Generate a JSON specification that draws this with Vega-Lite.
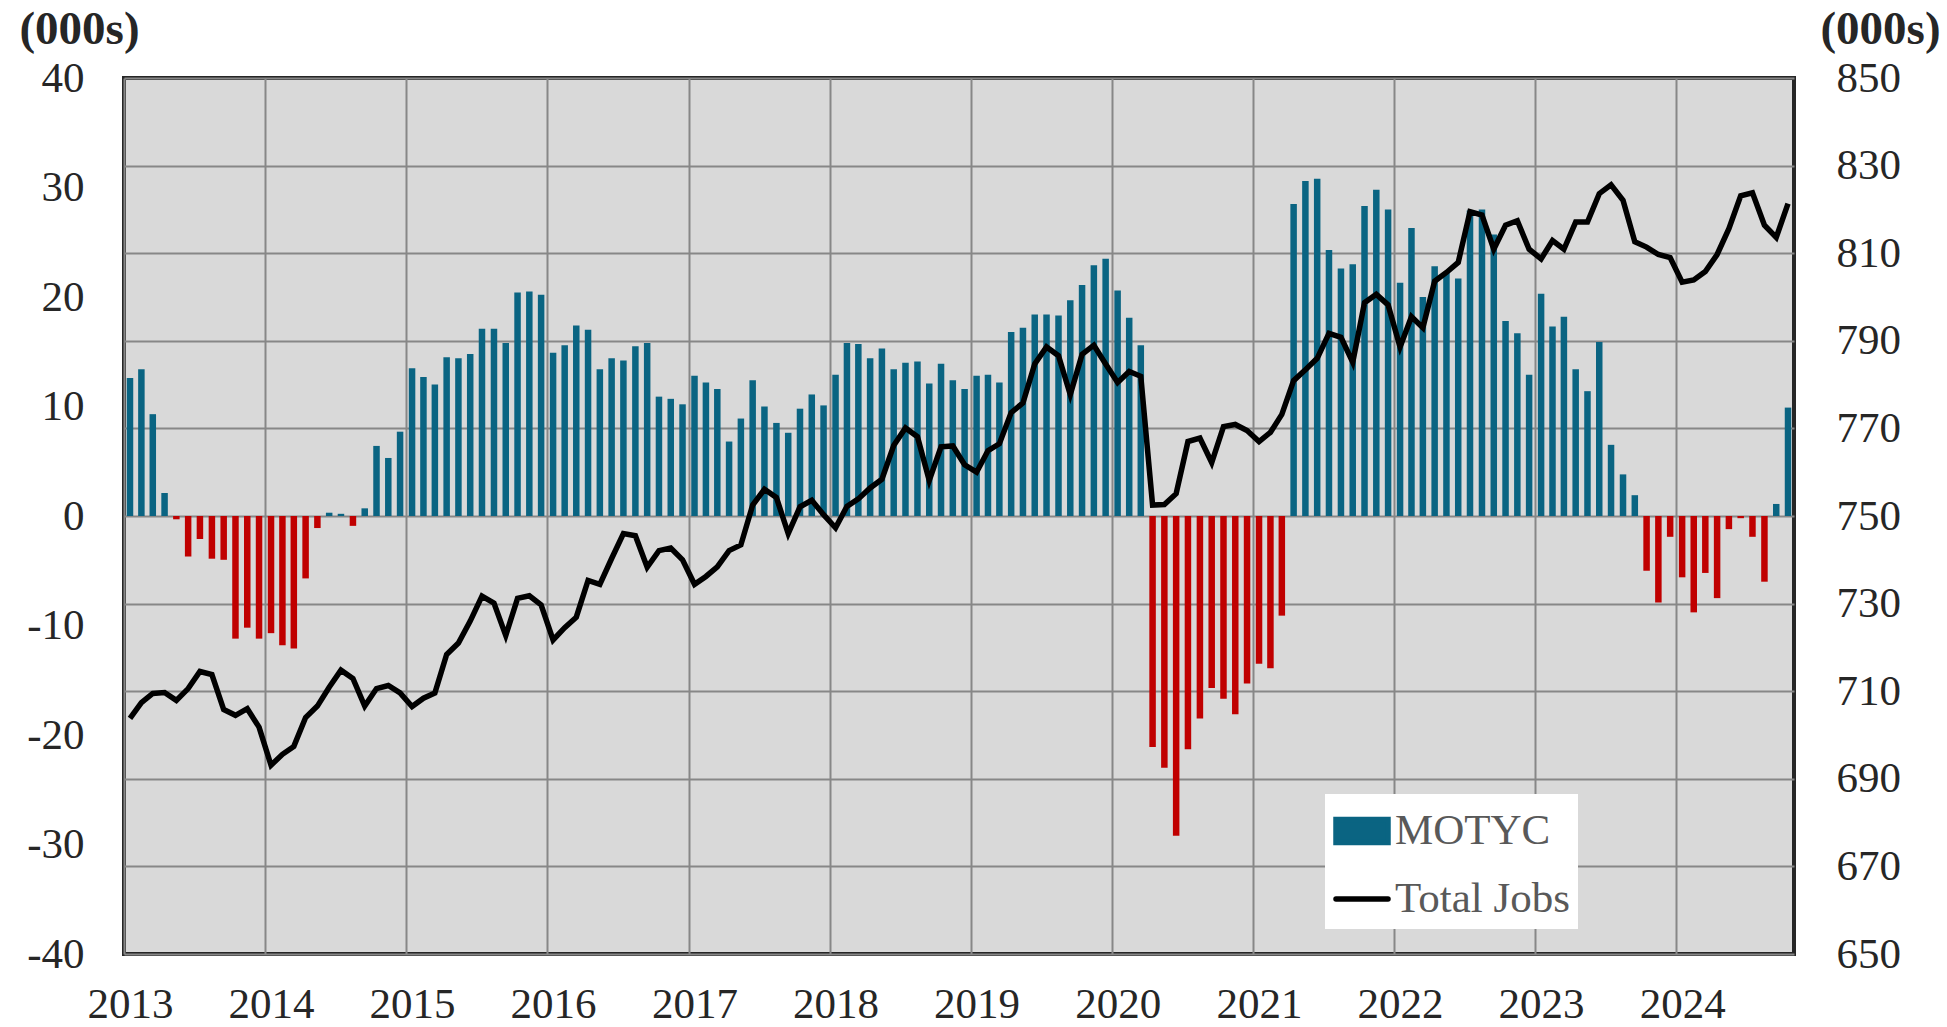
{
  "$schema": "https://vega.github.io/schema/vega-lite/v6.json",
  "width": 1670,
  "height": 876,
  "autosize": {"type": "none"},
  "padding": {"left": 124, "top": 78, "right": 153, "bottom": 73},
  "background": "white",
  "data": {
    "values": [
      {"date": "2013-01-01", "motyc": 12.6, "jobs": 703.8},
      {"date": "2013-02-01", "motyc": 13.4, "jobs": 707.4},
      {"date": "2013-03-01", "motyc": 9.3, "jobs": 709.5},
      {"date": "2013-04-01", "motyc": 2.1, "jobs": 709.7},
      {"date": "2013-05-01", "motyc": -0.3, "jobs": 707.9},
      {"date": "2013-06-01", "motyc": -3.7, "jobs": 710.6},
      {"date": "2013-07-01", "motyc": -2.1, "jobs": 714.5},
      {"date": "2013-08-01", "motyc": -3.9, "jobs": 713.8},
      {"date": "2013-09-01", "motyc": -4.0, "jobs": 705.8},
      {"date": "2013-10-01", "motyc": -11.2, "jobs": 704.5},
      {"date": "2013-11-01", "motyc": -10.2, "jobs": 706.0},
      {"date": "2013-12-01", "motyc": -11.2, "jobs": 701.8},
      {"date": "2014-01-01", "motyc": -10.7, "jobs": 693.1},
      {"date": "2014-02-01", "motyc": -11.8, "jobs": 695.6},
      {"date": "2014-03-01", "motyc": -12.1, "jobs": 697.4},
      {"date": "2014-04-01", "motyc": -5.7, "jobs": 704.0},
      {"date": "2014-05-01", "motyc": -1.1, "jobs": 706.6},
      {"date": "2014-06-01", "motyc": 0.3, "jobs": 710.9},
      {"date": "2014-07-01", "motyc": 0.2, "jobs": 714.8},
      {"date": "2014-08-01", "motyc": -0.9, "jobs": 712.9},
      {"date": "2014-09-01", "motyc": 0.7, "jobs": 706.6},
      {"date": "2014-10-01", "motyc": 6.4, "jobs": 710.6},
      {"date": "2014-11-01", "motyc": 5.3, "jobs": 711.3},
      {"date": "2014-12-01", "motyc": 7.7, "jobs": 709.6},
      {"date": "2015-01-01", "motyc": 13.5, "jobs": 706.5},
      {"date": "2015-02-01", "motyc": 12.7, "jobs": 708.4},
      {"date": "2015-03-01", "motyc": 12.0, "jobs": 709.6},
      {"date": "2015-04-01", "motyc": 14.5, "jobs": 718.4},
      {"date": "2015-05-01", "motyc": 14.4, "jobs": 721.0},
      {"date": "2015-06-01", "motyc": 14.8, "jobs": 726.0},
      {"date": "2015-07-01", "motyc": 17.1, "jobs": 731.7},
      {"date": "2015-08-01", "motyc": 17.1, "jobs": 730.1},
      {"date": "2015-09-01", "motyc": 15.8, "jobs": 722.7},
      {"date": "2015-10-01", "motyc": 20.4, "jobs": 731.2},
      {"date": "2015-11-01", "motyc": 20.5, "jobs": 731.8},
      {"date": "2015-12-01", "motyc": 20.2, "jobs": 729.7},
      {"date": "2016-01-01", "motyc": 14.9, "jobs": 721.7},
      {"date": "2016-02-01", "motyc": 15.6, "jobs": 724.5},
      {"date": "2016-03-01", "motyc": 17.4, "jobs": 726.9},
      {"date": "2016-04-01", "motyc": 17.0, "jobs": 735.3},
      {"date": "2016-05-01", "motyc": 13.4, "jobs": 734.4},
      {"date": "2016-06-01", "motyc": 14.4, "jobs": 740.3},
      {"date": "2016-07-01", "motyc": 14.2, "jobs": 746.0},
      {"date": "2016-08-01", "motyc": 15.5, "jobs": 745.5},
      {"date": "2016-09-01", "motyc": 15.8, "jobs": 738.3},
      {"date": "2016-10-01", "motyc": 10.9, "jobs": 742.1},
      {"date": "2016-11-01", "motyc": 10.7, "jobs": 742.7},
      {"date": "2016-12-01", "motyc": 10.2, "jobs": 740.0},
      {"date": "2017-01-01", "motyc": 12.8, "jobs": 734.4},
      {"date": "2017-02-01", "motyc": 12.2, "jobs": 736.2},
      {"date": "2017-03-01", "motyc": 11.6, "jobs": 738.4},
      {"date": "2017-04-01", "motyc": 6.8, "jobs": 742.1},
      {"date": "2017-05-01", "motyc": 8.9, "jobs": 743.4},
      {"date": "2017-06-01", "motyc": 12.4, "jobs": 752.5},
      {"date": "2017-07-01", "motyc": 10.0, "jobs": 756.1},
      {"date": "2017-08-01", "motyc": 8.5, "jobs": 754.2},
      {"date": "2017-09-01", "motyc": 7.6, "jobs": 746.0},
      {"date": "2017-10-01", "motyc": 9.8, "jobs": 752.1},
      {"date": "2017-11-01", "motyc": 11.1, "jobs": 753.6},
      {"date": "2017-12-01", "motyc": 10.1, "jobs": 750.3},
      {"date": "2018-01-01", "motyc": 12.9, "jobs": 747.3},
      {"date": "2018-02-01", "motyc": 15.8, "jobs": 752.2},
      {"date": "2018-03-01", "motyc": 15.7, "jobs": 753.9},
      {"date": "2018-04-01", "motyc": 14.4, "jobs": 756.4},
      {"date": "2018-05-01", "motyc": 15.3, "jobs": 758.4},
      {"date": "2018-06-01", "motyc": 13.4, "jobs": 766.1},
      {"date": "2018-07-01", "motyc": 14.0, "jobs": 770.1},
      {"date": "2018-08-01", "motyc": 14.1, "jobs": 768.1},
      {"date": "2018-09-01", "motyc": 12.1, "jobs": 758.1},
      {"date": "2018-10-01", "motyc": 13.9, "jobs": 765.8},
      {"date": "2018-11-01", "motyc": 12.4, "jobs": 766.0},
      {"date": "2018-12-01", "motyc": 11.6, "jobs": 761.7},
      {"date": "2019-01-01", "motyc": 12.8, "jobs": 760.0},
      {"date": "2019-02-01", "motyc": 12.9, "jobs": 764.9},
      {"date": "2019-03-01", "motyc": 12.2, "jobs": 766.5},
      {"date": "2019-04-01", "motyc": 16.8, "jobs": 773.6},
      {"date": "2019-05-01", "motyc": 17.2, "jobs": 775.8},
      {"date": "2019-06-01", "motyc": 18.4, "jobs": 784.7},
      {"date": "2019-07-01", "motyc": 18.4, "jobs": 788.6},
      {"date": "2019-08-01", "motyc": 18.3, "jobs": 786.6},
      {"date": "2019-09-01", "motyc": 19.7, "jobs": 777.7},
      {"date": "2019-10-01", "motyc": 21.1, "jobs": 786.9},
      {"date": "2019-11-01", "motyc": 22.9, "jobs": 789.0},
      {"date": "2019-12-01", "motyc": 23.5, "jobs": 784.7},
      {"date": "2020-01-01", "motyc": 20.6, "jobs": 780.5},
      {"date": "2020-02-01", "motyc": 18.1, "jobs": 783.0},
      {"date": "2020-03-01", "motyc": 15.6, "jobs": 781.9},
      {"date": "2020-04-01", "motyc": -21.1, "jobs": 752.5},
      {"date": "2020-05-01", "motyc": -23.0, "jobs": 752.6},
      {"date": "2020-06-01", "motyc": -29.2, "jobs": 755.1},
      {"date": "2020-07-01", "motyc": -21.3, "jobs": 767.0},
      {"date": "2020-08-01", "motyc": -18.5, "jobs": 767.8},
      {"date": "2020-09-01", "motyc": -15.7, "jobs": 762.2},
      {"date": "2020-10-01", "motyc": -16.7, "jobs": 770.4},
      {"date": "2020-11-01", "motyc": -18.1, "jobs": 770.9},
      {"date": "2020-12-01", "motyc": -15.3, "jobs": 769.5},
      {"date": "2021-01-01", "motyc": -13.5, "jobs": 767.0},
      {"date": "2021-02-01", "motyc": -13.9, "jobs": 769.1},
      {"date": "2021-03-01", "motyc": -9.1, "jobs": 773.2},
      {"date": "2021-04-01", "motyc": 28.5, "jobs": 780.9},
      {"date": "2021-05-01", "motyc": 30.6, "jobs": 783.4},
      {"date": "2021-06-01", "motyc": 30.8, "jobs": 786.0},
      {"date": "2021-07-01", "motyc": 24.3, "jobs": 791.7},
      {"date": "2021-08-01", "motyc": 22.6, "jobs": 790.8},
      {"date": "2021-09-01", "motyc": 23.0, "jobs": 785.1},
      {"date": "2021-10-01", "motyc": 28.3, "jobs": 798.7},
      {"date": "2021-11-01", "motyc": 29.8, "jobs": 800.6},
      {"date": "2021-12-01", "motyc": 28.0, "jobs": 798.2},
      {"date": "2022-01-01", "motyc": 21.3, "jobs": 788.6},
      {"date": "2022-02-01", "motyc": 26.3, "jobs": 795.5},
      {"date": "2022-03-01", "motyc": 20.0, "jobs": 793.0},
      {"date": "2022-04-01", "motyc": 22.8, "jobs": 803.6},
      {"date": "2022-05-01", "motyc": 22.2, "jobs": 805.6},
      {"date": "2022-06-01", "motyc": 21.7, "jobs": 807.9},
      {"date": "2022-07-01", "motyc": 27.9, "jobs": 819.5},
      {"date": "2022-08-01", "motyc": 28.0, "jobs": 818.7},
      {"date": "2022-09-01", "motyc": 25.7, "jobs": 810.9},
      {"date": "2022-10-01", "motyc": 17.8, "jobs": 816.4},
      {"date": "2022-11-01", "motyc": 16.7, "jobs": 817.4},
      {"date": "2022-12-01", "motyc": 12.9, "jobs": 810.9},
      {"date": "2023-01-01", "motyc": 20.3, "jobs": 808.7},
      {"date": "2023-02-01", "motyc": 17.3, "jobs": 812.9},
      {"date": "2023-03-01", "motyc": 18.2, "jobs": 810.9},
      {"date": "2023-04-01", "motyc": 13.4, "jobs": 817.1},
      {"date": "2023-05-01", "motyc": 11.4, "jobs": 817.1},
      {"date": "2023-06-01", "motyc": 15.9, "jobs": 823.6},
      {"date": "2023-07-01", "motyc": 6.5, "jobs": 825.6},
      {"date": "2023-08-01", "motyc": 3.8, "jobs": 822.1},
      {"date": "2023-09-01", "motyc": 1.9, "jobs": 812.6},
      {"date": "2023-10-01", "motyc": -5.0, "jobs": 811.4},
      {"date": "2023-11-01", "motyc": -7.9, "jobs": 809.7},
      {"date": "2023-12-01", "motyc": -1.9, "jobs": 809.0},
      {"date": "2024-01-01", "motyc": -5.6, "jobs": 803.4},
      {"date": "2024-02-01", "motyc": -8.8, "jobs": 803.9},
      {"date": "2024-03-01", "motyc": -5.2, "jobs": 805.8},
      {"date": "2024-04-01", "motyc": -7.5, "jobs": 809.7},
      {"date": "2024-05-01", "motyc": -1.2, "jobs": 815.6},
      {"date": "2024-06-01", "motyc": -0.2, "jobs": 823.1},
      {"date": "2024-07-01", "motyc": -1.9, "jobs": 823.8},
      {"date": "2024-08-01", "motyc": -6.0, "jobs": 816.4},
      {"date": "2024-09-01", "motyc": 1.1, "jobs": 813.6},
      {"date": "2024-10-01", "motyc": 9.9, "jobs": 821.3}
    ]
  },
  "layer": [
    {
      "mark": {"type": "bar", "width": 6.5},
      "encoding": {
        "x": {
          "field": "date",
          "type": "temporal",
          "timeUnit": "yearmonth",
          "bandPosition": 0.5,
          "scale": {
            "domain": [{"year": 2013, "month": 1, "date": 1}, {"year": 2024, "month": 11, "date": 1}],
            "nice": false
          },
          "axis": {
            "title": null,
            "grid": true,
            "tickCount": {"interval": "year", "step": 1},
            "format": "%Y",
            "labelOffset": 6,
            "labelPadding": 29,
            "labelFlush": false,
            "labelOverlap": false
          }
        },
        "y": {
          "field": "motyc",
          "type": "quantitative",
          "scale": {"domain": [-40, 40], "nice": false},
          "axis": {
            "orient": "left",
            "values": [-40, -30, -20, -10, 0, 10, 20, 30, 40],
            "grid": false,
            "labelExpr": "datum.value + ''",
            "labelPadding": 40,
            "title": "(000s)",
            "titleAngle": 0,
            "titleX": -45,
            "titleY": -49,
            "titleAlign": "center",
            "titleBaseline": "middle"
          }
        },
        "color": {
          "datum": "MOTYC",
          "condition": {"test": "datum.motyc < 0", "value": "#c00000"},
          "scale": {"domain": ["MOTYC", "Total Jobs"], "range": ["#0a6482", "#000000"]},
          "legend": {
            "orient": "none",
            "legendX": 1201,
            "legendY": 716,
            "title": null,
            "fillColor": "white",
            "padding": 8,
            "rowPadding": 16,
            "labelFont": "Liberation Serif",
            "labelFontSize": 43,
            "labelColor": "#595959",
            "labelOffset": 4,
            "labelLimit": 400,
            "symbolSize": 2704,
            "symbolStrokeWidth": 5,
            "values": ["MOTYC", "Total Jobs"],
            "encode": {
              "symbols": {
                "update": {
                  "shape": {"signal": "datum.value === 'MOTYC' ? 'M-1,-0.44H1V0.44H-1Z' : 'stroke'"},
                  "fill": {"signal": "datum.value === 'MOTYC' ? '#0a6482' : 'transparent'"},
                  "stroke": {"signal": "datum.value === 'MOTYC' ? 'transparent' : '#000000'"},
                  "strokeWidth": {"value": 5.5},
                  "strokeCap": {"value": "round"},
                  "size": {"value": 2704},
                  "opacity": {"value": 1}
                }
              }
            }
          }
        }
      }
    },
    {
      "mark": {"type": "line", "strokeWidth": 5.5},
      "encoding": {
        "x": {"field": "date", "type": "temporal", "timeUnit": "yearmonth", "bandPosition": 0.5},
        "y": {
          "field": "jobs",
          "type": "quantitative",
          "scale": {"domain": [650, 850], "nice": false},
          "axis": {
            "orient": "right",
            "values": [650, 670, 690, 710, 730, 750, 770, 790, 810, 830, 850],
            "grid": true,
            "labelPadding": 42,
            "title": "(000s)",
            "titleAngle": 0,
            "titleX": 86,
            "titleY": -49,
            "titleAlign": "center",
            "titleBaseline": "middle"
          }
        },
        "color": {"datum": "Total Jobs"}
      }
    }
  ],
  "resolve": {"scale": {"y": "independent"}},
  "config": {
    "font": "Liberation Serif",
    "view": {"fill": "#d9d9d9", "stroke": "#262626", "strokeWidth": 4},
    "axis": {
      "labelFont": "Liberation Serif",
      "labelFontSize": 43,
      "labelColor": "#262626",
      "ticks": false,
      "domain": false,
      "gridColor": "#878787",
      "gridWidth": 2,
      "gridOpacity": 1,
      "titleFont": "Liberation Serif",
      "titleFontSize": 47,
      "titleFontWeight": "bold",
      "titleColor": "#262626"
    }
  }
}
